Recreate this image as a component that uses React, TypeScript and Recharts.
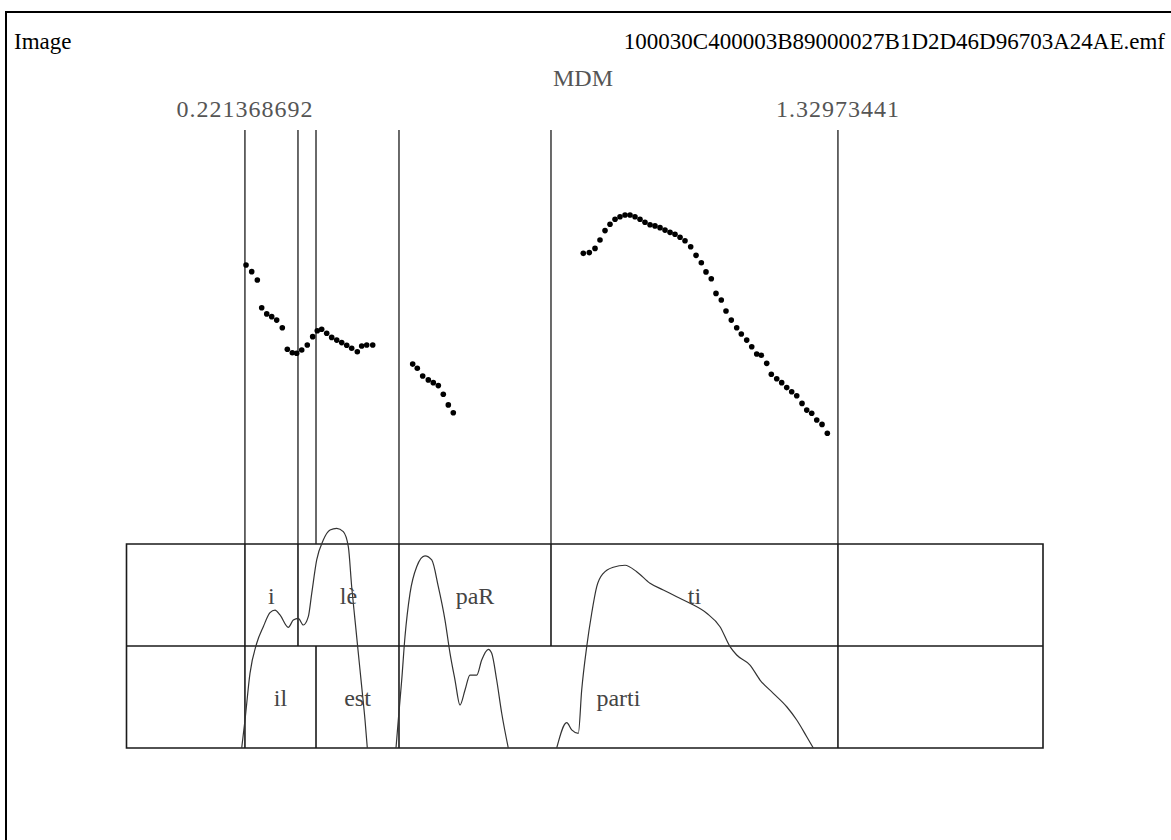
import {
  ComposedChart,
  Line,
  ReferenceArea,
  ReferenceLine,
  Scatter,
  XAxis,
  YAxis,
} from "recharts";

// time span of the sound / textgrid (s)
const tStart = 0;
const tEnd = 1.713;

// textgrid boundaries (s) and interval labels
const tier1Bounds = [0.221368692, 0.3205, 0.5093, 0.7934, 1.32973441];
const tier1Labels = ["i", "lè", "paR", "ti"];
const tier2Bounds = [0.221368692, 0.3542, 0.5093, 1.32973441];
const tier2Labels = ["il", "est", "parti"];
const timeLabels = ["0.221368692", "1.32973441"];

// pitch points [time s, Hz]
const pitchSeg1 = [
  [0.2234, 245.4], [0.234, 242.7], [0.2445, 239.3], [0.2527, 228.1], [0.2621, 225.6],
  [0.2714, 224.5], [0.2807, 223.1], [0.2912, 220.0], [0.3006, 211.3], [0.3099, 209.9],
  [0.3181, 209.7], [0.3275, 211.0], [0.3379, 213.0], [0.348, 216.4], [0.3566, 218.8],
  [0.3648, 219.4], [0.3742, 217.8], [0.3835, 216.1], [0.3929, 215.0], [0.4022, 214.0],
  [0.4116, 212.9], [0.4209, 211.7], [0.4314, 210.3], [0.4396, 212.6], [0.449, 213.0],
  [0.4602, 213.0],
];
const pitchSeg2 = [
  [0.5349, 205.3], [0.5435, 203.6], [0.5536, 200.5], [0.5641, 198.9], [0.5734, 197.8],
  [0.5828, 196.6], [0.5921, 193.1], [0.6015, 188.8], [0.6108, 185.6],
];
const pitchSeg3 = [
  [0.8538, 250.1], [0.865, 250.4], [0.8757, 252.1], [0.885, 255.5], [0.8944, 259.3],
  [0.9037, 261.9], [0.9131, 263.9], [0.9224, 264.9], [0.9318, 265.6], [0.9411, 265.6],
  [0.9504, 264.9], [0.9598, 263.9], [0.9691, 262.7], [0.9785, 261.7], [0.9878, 261.2],
  [0.9972, 260.5], [1.0065, 259.5], [1.0159, 258.6], [1.0252, 257.8], [1.0346, 256.6],
  [1.0439, 255.2], [1.0545, 252.8], [1.0645, 249.3], [1.0744, 246.3], [1.0831, 242.6],
  [1.093, 239.8], [1.1018, 233.9], [1.1117, 231.2], [1.1205, 226.8], [1.1304, 223.1],
  [1.1405, 220.0], [1.1491, 217.5], [1.1592, 215.0], [1.1686, 212.3], [1.1779, 209.4],
  [1.1865, 208.9], [1.1966, 205.6], [1.2052, 201.2], [1.2153, 199.4], [1.2246, 197.8],
  [1.234, 195.8], [1.2433, 194.1], [1.2527, 192.5], [1.2626, 189.4], [1.2714, 186.7],
  [1.2807, 185.4], [1.2901, 182.7], [1.3, 180.9], [1.3099, 177.3],
];

// intensity contour [time s, dB]
const intSeg1 = [
  [0.2153, 50], [0.2215, 51.81], [0.2308, 54.83], [0.2434, 56.78], [0.2557, 57.85],
  [0.2682, 58.76], [0.2776, 58.93], [0.2869, 58.61], [0.3024, 57.81], [0.3118, 58.28],
  [0.3211, 58.39], [0.3305, 57.96], [0.3398, 58.5], [0.3462, 60.01], [0.3555, 62.17],
  [0.3678, 63.46], [0.3804, 64.11], [0.3929, 64.22], [0.4052, 64.0], [0.4146, 63.03],
  [0.4209, 60.44], [0.4271, 58.28], [0.4333, 56.13], [0.4396, 53.97], [0.4458, 51.81],
  [0.4501, 50],
];
const intSeg2 = [
  [0.5037, 50], [0.508, 51.81], [0.5144, 54.4], [0.5205, 57.2], [0.5299, 60.01],
  [0.5424, 61.73], [0.5579, 62.43], [0.5705, 62.17], [0.5828, 60.44], [0.5953, 58.28],
  [0.6047, 56.13], [0.614, 54.4], [0.6233, 52.78], [0.6327, 53.75], [0.642, 54.72],
  [0.6546, 54.72], [0.6639, 55.7], [0.6763, 56.39], [0.6826, 56.13], [0.6919, 54.4],
  [0.7013, 52.25], [0.7136, 50],
];
const intSeg3 = [
  [0.8041, 50], [0.8228, 51.64], [0.8321, 51.17], [0.8445, 50.95], [0.8508, 53.75],
  [0.8602, 56.56], [0.8695, 58.72], [0.8789, 60.44], [0.8912, 61.31], [0.9099, 61.7],
  [0.9318, 61.83], [0.9536, 61.41], [0.9785, 60.66], [1.0033, 60.23], [1.0284, 59.79],
  [1.0532, 59.37], [1.0845, 58.72], [1.1093, 57.85], [1.128, 56.56], [1.1405, 56.02],
  [1.1654, 55.37], [1.1841, 54.4], [1.2089, 53.54], [1.234, 52.67], [1.2527, 51.81],
  [1.2714, 50.73], [1.2837, 50],
];

const TG_TOP = 6.06; // textgrid axis: each tier is one unit high
const serif = "'Liberation Serif', 'Times New Roman', serif";
const lineColor = "#1a1a1a";

const toPitch = (seg: number[][]) => seg.map(([t, hz]) => ({ t, hz }));
const toInt = (seg: number[][]) => seg.map(([t, db]) => ({ t, db }));

const dot = (props: any) => (
  <circle cx={props.cx} cy={props.cy} r={2.8} fill="#000" />
);

const intervals = (bounds: number[], labels: string[]) =>
  labels.map((label, i) => ({ x1: bounds[i], x2: bounds[i + 1], label }));

const allBounds = Array.from(new Set([...tier1Bounds, ...tier2Bounds])).sort(
  (a, b) => a - b
);

const App = () => {
  return (
    <div
      style={{
        position: "absolute",
        left: 0,
        top: 0,
        width: 1171,
        height: 840,
        overflow: "hidden",
        background: "#fff",
      }}
    >
      <div
        style={{
          position: "absolute",
          left: 5,
          top: 11,
          width: 1300,
          height: 1000,
          borderLeft: "2px solid #000",
          borderTop: "2px solid #000",
        }}
      />
      <div
        style={{
          position: "absolute",
          left: 14,
          top: 30,
          fontFamily: serif,
          fontSize: 23,
          lineHeight: "23px",
          color: "#000",
        }}
      >
        Image
      </div>
      <div
        style={{
          position: "absolute",
          right: 6,
          top: 30,
          fontFamily: serif,
          fontSize: 23,
          lineHeight: "23px",
          color: "#000",
          whiteSpace: "nowrap",
        }}
      >
        100030C400003B89000027B1D2D46D96703A24AE.emf
      </div>
      <div
        style={{
          position: "absolute",
          left: 483,
          width: 200,
          top: 66,
          textAlign: "center",
          fontFamily: serif,
          fontSize: 24,
          lineHeight: "24px",
          color: "#555",
        }}
      >
        MDM
      </div>

      <div style={{ position: "absolute", left: 0, top: 0 }}>
        <ComposedChart
          width={1171}
          height={840}
          margin={{ top: 130, right: 128, bottom: 92, left: 126.5 }}
        >
          <XAxis
            dataKey="t"
            type="number"
            domain={[tStart, tEnd]}
            allowDataOverflow
            hide
          />
          <YAxis yAxisId="hz" type="number" domain={[50, 300]} allowDataOverflow hide />
          <YAxis yAxisId="db" type="number" domain={[50, 90]} allowDataOverflow hide />
          <YAxis yAxisId="tg" type="number" domain={[0, TG_TOP]} allowDataOverflow hide />

          {/* textgrid frame */}
          <ReferenceArea
            yAxisId="tg"
            x1={tStart}
            x2={tEnd}
            y1={0}
            y2={2}
            fill="none"
            stroke={lineColor}
            strokeWidth={1.6}
          />
          <ReferenceLine
            yAxisId="tg"
            segment={[
              { x: tStart, y: 1 },
              { x: tEnd, y: 1 },
            ]}
            stroke={lineColor}
            strokeWidth={1.6}
          />

          {/* boundaries above the textgrid */}
          {allBounds.map((t) => (
            <ReferenceLine
              key={"u" + t}
              yAxisId="tg"
              segment={[
                { x: t, y: 2 },
                { x: t, y: TG_TOP },
              ]}
              stroke={lineColor}
              strokeWidth={1.3}
            />
          ))}
          {tier1Bounds.map((t) => (
            <ReferenceLine
              key={"a" + t}
              yAxisId="tg"
              segment={[
                { x: t, y: 1 },
                { x: t, y: 2 },
              ]}
              stroke={lineColor}
              strokeWidth={1.6}
            />
          ))}
          {tier2Bounds.map((t) => (
            <ReferenceLine
              key={"b" + t}
              yAxisId="tg"
              segment={[
                { x: t, y: 0 },
                { x: t, y: 1 },
              ]}
              stroke={lineColor}
              strokeWidth={1.6}
            />
          ))}

          {/* time labels on first and last boundary */}
          {[tier1Bounds[0], tier1Bounds[tier1Bounds.length - 1]].map((t, i) => (
            <ReferenceLine
              key={"l" + t}
              yAxisId="tg"
              x={t}
              stroke="none"
              label={{
                value: timeLabels[i],
                position: "top",
                offset: 13,
                fill: "#555",
                fontSize: 24,
                fontFamily: serif,
                letterSpacing: 1,
              }}
            />
          ))}

          {/* interval labels */}
          {intervals(tier1Bounds, tier1Labels).map((iv) => (
            <ReferenceArea
              key={"t1" + iv.label}
              yAxisId="tg"
              x1={iv.x1}
              x2={iv.x2}
              y1={1}
              y2={2}
              fill="none"
              stroke="none"
              label={{
                value: iv.label,
                position: "center",
                fill: "#444",
                fontSize: 24,
                fontFamily: serif,
              }}
            />
          ))}
          {intervals(tier2Bounds, tier2Labels).map((iv) => (
            <ReferenceArea
              key={"t2" + iv.label}
              yAxisId="tg"
              x1={iv.x1}
              x2={iv.x2}
              y1={0}
              y2={1}
              fill="none"
              stroke="none"
              label={{
                value: iv.label,
                position: "center",
                fill: "#444",
                fontSize: 24,
                fontFamily: serif,
              }}
            />
          ))}

          {/* intensity contour */}
          {[intSeg1, intSeg2, intSeg3].map((seg, i) => (
            <Line
              key={"int" + i}
              yAxisId="db"
              data={toInt(seg)}
              dataKey="db"
              type="monotone"
              stroke="#333"
              strokeWidth={1.2}
              dot={false}
              activeDot={false}
              isAnimationActive={false}
            />
          ))}

          {/* pitch points */}
          {[pitchSeg1, pitchSeg2, pitchSeg3].map((seg, i) => (
            <Scatter
              key={"p" + i}
              yAxisId="hz"
              data={toPitch(seg)}
              dataKey="hz"
              shape={dot}
              isAnimationActive={false}
            />
          ))}
        </ComposedChart>
      </div>
    </div>
  );
};

export default App;
